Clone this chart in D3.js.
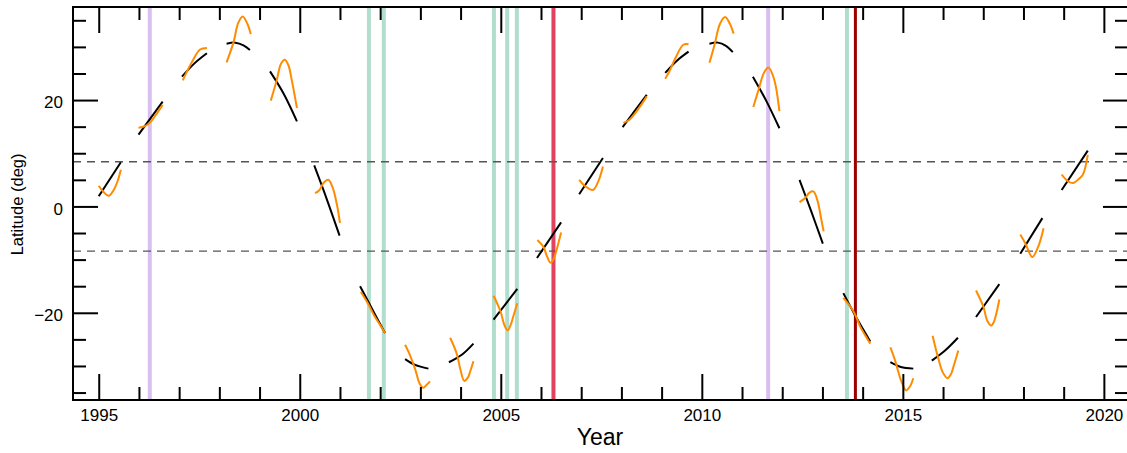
<!DOCTYPE html>
<html>
<head>
<meta charset="utf-8">
<script src="https://cdn.jsdelivr.net/npm/d3@7"></script>
<style>
  body { margin: 0; background: #fff; }
  svg { display: block; }
  text { font-family: "Liberation Sans", Arial, Helvetica, sans-serif; }
</style>
</head>
<body>
<div id="chart"></div>
<script>
// black: smooth track segments [year, latitude]
const blackSegments = [
  [[1995.0, 1.9], [1995.55, 8.3]],
  [[1995.99, 13.5], [1996.59, 19.7]],
  [[1997.07, 24.4], [1997.38, 26.9], [1997.69, 28.8]],
  [[1998.18, 30.6], [1998.4, 30.8], [1998.6, 30.3], [1998.76, 29.4]],
  [[1999.26, 25.4], [1999.6, 21.2], [1999.93, 16.0]],
  [[2000.36, 7.7], [2000.68, 1.2], [2000.99, -5.5]],
  [[2001.5, -15.0], [2001.8, -19.3], [2002.12, -23.8]],
  [[2002.62, -28.7], [2002.87, -29.8], [2003.2, -30.5]],
  [[2003.71, -29.3], [2004.03, -27.9], [2004.32, -25.8]],
  [[2004.82, -21.3], [2005.41, -15.5]],
  [[2005.9, -9.7], [2006.5, -3.0]],
  [[2006.95, 2.3], [2007.54, 9.1]],
  [[2008.03, 14.9], [2008.63, 21.0]],
  [[2009.09, 25.1], [2009.38, 27.4], [2009.67, 29.1]],
  [[2010.19, 30.6], [2010.4, 30.8], [2010.6, 30.2], [2010.77, 29.0]],
  [[2011.27, 24.4], [2011.6, 19.9], [2011.93, 14.7]],
  [[2012.43, 5.0], [2012.72, -0.9], [2013.01, -7.0]],
  [[2013.52, -16.3], [2013.85, -21.0], [2014.19, -25.4]],
  [[2014.69, -29.3], [2014.95, -30.2], [2015.26, -30.5]],
  [[2015.72, -29.0], [2016.05, -27.1], [2016.37, -24.7]],
  [[2016.82, -20.8], [2017.4, -14.6]],
  [[2017.92, -8.9], [2018.47, -2.2]],
  [[2018.95, 3.1], [2019.6, 10.5]]
];

// orange: wiggly segments [year, latitude]
const orangeSegments = [
  [[1995.0, 3.9], [1995.12, 2.7], [1995.25, 2.0], [1995.38, 3.2], [1995.48, 5.0], [1995.55, 6.9]],
  [[1995.99, 14.8], [1996.15, 15.1], [1996.28, 15.8], [1996.42, 17.2], [1996.59, 19.1]],
  [[1997.09, 23.7], [1997.19, 25.3], [1997.35, 27.6], [1997.52, 29.5], [1997.69, 29.8]],
  [[1998.18, 27.1], [1998.35, 30.8], [1998.47, 34.5], [1998.58, 35.7], [1998.7, 34.3], [1998.78, 32.4]],
  [[1999.28, 19.9], [1999.43, 23.8], [1999.53, 26.8], [1999.63, 27.6], [1999.72, 26.5], [1999.8, 23.8], [1999.93, 18.5]],
  [[2000.38, 2.5], [2000.48, 3.0], [2000.6, 4.5], [2000.71, 5.0], [2000.82, 3.5], [2000.92, 0.5], [2001.0, -3.1]],
  [[2001.52, -16.1], [2001.7, -18.3], [2001.85, -20.5], [2002.0, -22.3], [2002.12, -23.8]],
  [[2002.62, -26.0], [2002.72, -27.6], [2002.87, -30.6], [2002.98, -33.3], [2003.07, -34.1], [2003.15, -33.6], [2003.24, -32.9]],
  [[2003.74, -24.7], [2003.9, -27.6], [2004.0, -30.8], [2004.09, -32.8], [2004.18, -32.2], [2004.24, -31.0], [2004.32, -29.1]],
  [[2004.82, -16.8], [2004.92, -18.4], [2005.0, -19.9], [2005.09, -22.3], [2005.17, -23.3], [2005.25, -22.2], [2005.31, -20.7], [2005.41, -18.2]],
  [[2005.91, -6.3], [2006.06, -7.6], [2006.15, -9.4], [2006.24, -10.6], [2006.32, -9.8], [2006.39, -8.1], [2006.5, -4.9]],
  [[2006.95, 5.0], [2007.1, 3.8], [2007.29, 3.1], [2007.43, 4.8], [2007.54, 7.5]],
  [[2008.05, 15.7], [2008.2, 16.3], [2008.35, 17.6], [2008.5, 19.2], [2008.63, 20.7]],
  [[2009.09, 24.0], [2009.2, 25.5], [2009.35, 28.0], [2009.54, 30.4], [2009.67, 30.5]],
  [[2010.19, 27.0], [2010.32, 30.5], [2010.45, 34.3], [2010.58, 35.6], [2010.7, 34.3], [2010.79, 32.5]],
  [[2011.28, 18.7], [2011.41, 21.9], [2011.55, 25.2], [2011.66, 26.1], [2011.76, 24.8], [2011.84, 22.6], [2011.93, 17.9]],
  [[2012.43, 0.8], [2012.57, 1.6], [2012.68, 2.6], [2012.78, 2.8], [2012.88, 1.0], [2012.98, -2.8], [2013.03, -4.7]],
  [[2013.52, -17.2], [2013.77, -19.7], [2013.94, -22.6], [2014.06, -24.2], [2014.19, -25.8]],
  [[2014.69, -26.5], [2014.8, -28.8], [2014.95, -32.6], [2015.08, -34.6], [2015.18, -33.8], [2015.26, -32.3]],
  [[2015.74, -24.3], [2015.89, -28.8], [2016.0, -31.3], [2016.11, -32.3], [2016.2, -31.5], [2016.26, -30.1], [2016.38, -27.1]],
  [[2016.82, -15.8], [2017.0, -18.8], [2017.1, -21.5], [2017.2, -22.4], [2017.27, -21.6], [2017.33, -20.0], [2017.4, -17.5]],
  [[2017.92, -5.3], [2018.05, -7.0], [2018.22, -9.5], [2018.37, -7.5], [2018.5, -4.1]],
  [[2018.95, 6.0], [2019.11, 4.7], [2019.24, 4.4], [2019.38, 5.2], [2019.48, 6.0], [2019.6, 9.7]]
];

// vertical event lines (year)
const purpleYears = [1996.27, 2011.65];
const greenYears = [2001.72, 2002.09, 2004.83, 2005.16, 2005.40, 2013.61];
const redYears = [2006.31];
const darkRedYears = [2013.82];

const dashedLevels = [8.4, -8.4];

const xMajorTicks = [1995, 2000, 2005, 2010, 2015, 2020];
const yMajorTicks = [-20, 0, 20];

const W = 1127, H = 453;
const plotL = 73, plotT = 7, plotB = 400, plotR = 1128;

const svg = d3.select("#chart").append("svg")
  .attr("width", W)
  .attr("height", H);

const x = d3.scaleLinear().domain([1994.36, 2020.6]).range([plotL, plotR]);
const y = d3.scaleLinear().domain([-36.4, 37.5]).range([plotB, plotT]);

const xMinor = d3.range(1995, 2021).filter(v => !xMajorTicks.includes(v));
const yMinor = d3.range(-35, 36, 5).filter(v => !yMajorTicks.includes(v));

// vertical lines
function vlines(years, color, width){
  svg.append("g").selectAll("line")
    .data(years)
    .enter().append("line")
    .attr("x1", d => x(d)).attr("x2", d => x(d))
    .attr("y1", plotT).attr("y2", plotB)
    .attr("stroke", color)
    .attr("stroke-width", width);
}
vlines(purpleYears, "#d9bff0", 4);
vlines(greenYears, "#b1ddcc", 4);
vlines(redYears, "#e0425f", 4);
vlines(darkRedYears, "#9a0000", 3);

// dashed levels
svg.append("g").selectAll("line")
  .data(dashedLevels)
  .enter().append("line")
  .attr("x1", plotL).attr("x2", plotR)
  .attr("y1", d => y(d)).attr("y2", d => y(d))
  .attr("stroke", "#555")
  .attr("stroke-width", 1.3)
  .attr("stroke-dasharray", "8,6");

const line = d3.line()
  .x(d => x(d[0]))
  .y(d => y(d[1]))
  .curve(d3.curveCatmullRom.alpha(0.5));

svg.append("g").selectAll("path")
  .data(blackSegments)
  .enter().append("path")
  .attr("d", line)
  .attr("fill", "none")
  .attr("stroke", "#000")
  .attr("stroke-width", 2);

svg.append("g").selectAll("path")
  .data(orangeSegments)
  .enter().append("path")
  .attr("d", line)
  .attr("fill", "none")
  .attr("stroke", "#ff8c00")
  .attr("stroke-width", 2);

// axes (ticks point inward)
function styleAxis(g){
  g.select(".domain").remove();
  g.selectAll(".tick line").attr("stroke", "#000").attr("stroke-width", 2);
}

svg.append("g")
  .attr("transform", `translate(0,${plotB})`)
  .call(d3.axisBottom(x).tickValues(xMajorTicks).tickSizeInner(-26).tickSizeOuter(0)
    .tickPadding(9).tickFormat(d3.format("d")))
  .call(styleAxis)
  .call(g => g.selectAll("text").style("font-size", "17px").attr("fill", "#000"));
svg.append("g")
  .attr("transform", `translate(0,${plotB})`)
  .call(d3.axisBottom(x).tickValues(xMinor).tickSizeInner(-13).tickSizeOuter(0).tickFormat(""))
  .call(styleAxis);

svg.append("g")
  .attr("transform", `translate(0,${plotT})`)
  .call(d3.axisTop(x).tickValues(xMajorTicks).tickSizeInner(-26).tickSizeOuter(0).tickFormat(""))
  .call(styleAxis);
svg.append("g")
  .attr("transform", `translate(0,${plotT})`)
  .call(d3.axisTop(x).tickValues(xMinor).tickSizeInner(-13).tickSizeOuter(0).tickFormat(""))
  .call(styleAxis);

svg.append("g")
  .attr("transform", `translate(${plotL},0)`)
  .call(d3.axisLeft(y).tickValues(yMajorTicks).tickSizeInner(-25).tickSizeOuter(0)
    .tickPadding(10).tickFormat(d => d < 0 ? "\u2212" + Math.abs(d) : d))
  .call(styleAxis)
  .call(g => g.selectAll("text").style("font-size", "17px").attr("fill", "#000").attr("dy", "0.45em"));
svg.append("g")
  .attr("transform", `translate(${plotL},0)`)
  .call(d3.axisLeft(y).tickValues(yMinor).tickSizeInner(-13).tickSizeOuter(0).tickFormat(""))
  .call(styleAxis);

svg.append("g")
  .attr("transform", `translate(${plotR},0)`)
  .call(d3.axisRight(y).tickValues(yMajorTicks).tickSizeInner(-25).tickSizeOuter(0).tickFormat(""))
  .call(styleAxis);
svg.append("g")
  .attr("transform", `translate(${plotR},0)`)
  .call(d3.axisRight(y).tickValues(yMinor).tickSizeInner(-13).tickSizeOuter(0).tickFormat(""))
  .call(styleAxis);

// frame
svg.append("rect")
  .attr("x", plotL).attr("y", plotT)
  .attr("width", plotR - plotL).attr("height", plotB - plotT)
  .attr("fill", "none")
  .attr("stroke", "#000")
  .attr("stroke-width", 2);

// axis titles
svg.append("text")
  .attr("x", (plotL + W) / 2)
  .attr("y", 445)
  .attr("text-anchor", "middle")
  .style("font-size", "23px")
  .text("Year");

svg.append("text")
  .attr("transform", `translate(23,${y(0) - 2}) rotate(-90)`)
  .attr("text-anchor", "middle")
  .style("font-size", "16.5px")
  .text("Latitude (deg)");
</script>
</body>
</html>
